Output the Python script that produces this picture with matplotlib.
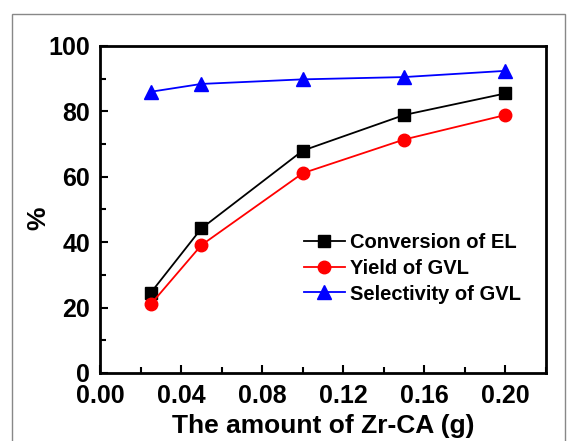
import numpy as np
import matplotlib.pyplot as plt
from matplotlib.patches import Rectangle
from matplotlib.ticker import MultipleLocator

plt.rcParams['font.family'] = 'Liberation Sans'
plt.rcParams['font.weight'] = 'bold'

amount = [0.025, 0.05, 0.10, 0.15, 0.20]
conversion = [24.5, 44.2, 68.0, 78.9, 85.5]
yield_gvl = [21.0, 39.1, 61.1, 71.4, 78.9]
selectivity = [86.0, 88.4, 89.8, 90.5, 92.4]

fig = plt.figure(figsize=(5.67, 4.41), dpi=100)
ax = fig.add_axes([100/567, 1 - 373/441, 446/567, 327/441])

# gray frame around the figure
fig.patches.append(Rectangle((12/567, -0.05), 553/567, 1.05 - 14/441,
                             transform=fig.transFigure, fill=False,
                             edgecolor='#888888', linewidth=1.0))

ax.plot(amount, conversion, '-s', color='black', markerfacecolor='black',
        markersize=8, linewidth=1.3, label='Conversion of EL')
ax.plot(amount, yield_gvl, '-o', color='red', markerfacecolor='red',
        markersize=9, linewidth=1.3, label='Yield of GVL')
ax.plot(amount, selectivity, '-^', color='blue', markerfacecolor='blue',
        markersize=10, linewidth=1.3, label='Selectivity of GVL')

ax.set_xlim(0, 0.22)
ax.set_ylim(0, 100)
ax.xaxis.set_major_locator(MultipleLocator(0.04))
ax.xaxis.set_minor_locator(MultipleLocator(0.02))
ax.yaxis.set_major_locator(MultipleLocator(20))
ax.yaxis.set_minor_locator(MultipleLocator(10))
ax.xaxis.set_major_formatter(plt.FuncFormatter(lambda v, p: f'{v:.2f}'))

ax.tick_params(which='both', direction='in', top=False, right=False,
               labelsize=18, width=1.5)
ax.tick_params(axis='x', pad=8)
ax.tick_params(axis='y', pad=7)
ax.tick_params(which='major', length=6)
ax.tick_params(which='minor', length=4)
for s in ax.spines.values():
    s.set_linewidth(2)

ax.set_xlabel('The amount of Zr-CA (g)', fontsize=19, fontweight='bold', labelpad=4)
ax.set_ylabel('%', fontsize=19, fontweight='bold', labelpad=-1)
ax.yaxis.label.set_y(0.474)

ax.legend(loc='center left', bbox_to_anchor=(0.44, 0.32), frameon=False,
          fontsize=14.5, handlelength=2.0, handletextpad=0.25,
          labelspacing=0.33, borderaxespad=0)

fig.savefig('out.png', dpi=100)
